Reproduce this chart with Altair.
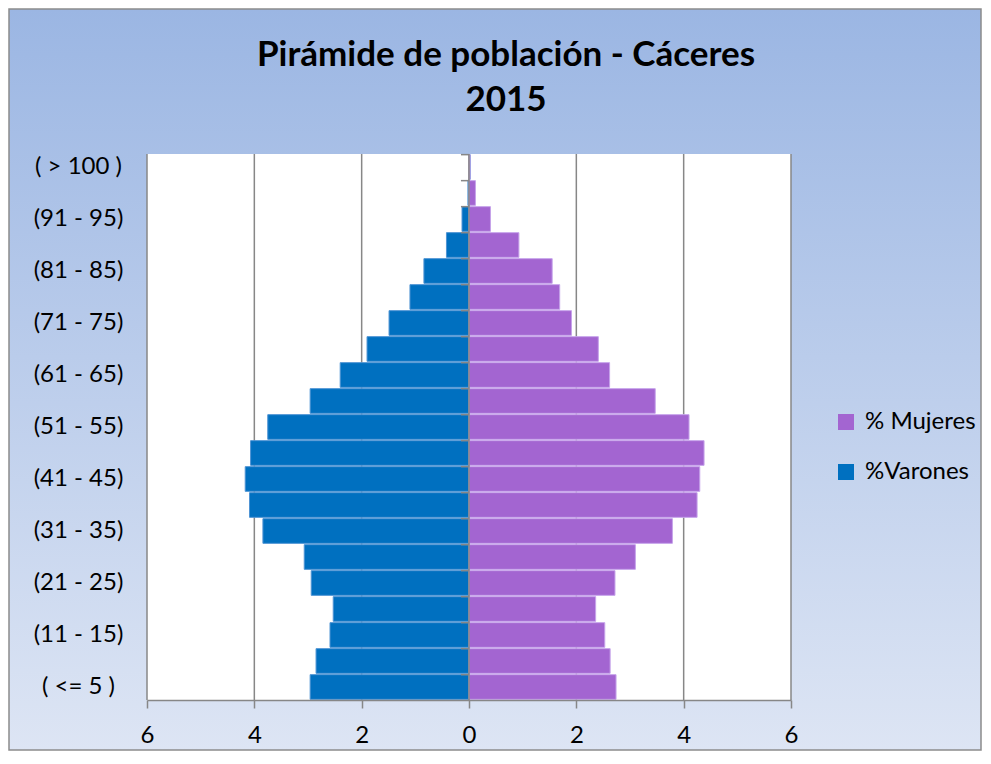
import altair as alt
import pandas as pd

# ---- data ----
categorias = ["( > 100 )", "(96 - 100)", "(91 - 95)", "(86 - 90)", "(81 - 85)",
              "(76 - 80)", "(71 - 75)", "(66 - 70)", "(61 - 65)", "(56 - 60)",
              "(51 - 55)", "(46 - 50)", "(41 - 45)", "(36 - 40)", "(31 - 35)",
              "(26 - 30)", "(21 - 25)", "(16 - 20)", "(11 - 15)", "(6 - 10)",
              "( <= 5 )"]
varones = [0.0, 0.02, 0.13, 0.42, 0.84, 1.10, 1.49, 1.90, 2.40, 2.96, 3.75,
           4.07, 4.17, 4.09, 3.84, 3.07, 2.94, 2.53, 2.59, 2.85, 2.96]
mujeres = [0.02, 0.12, 0.40, 0.93, 1.55, 1.69, 1.91, 2.41, 2.62, 3.47, 4.10,
           4.38, 4.30, 4.25, 3.79, 3.10, 2.72, 2.36, 2.53, 2.63, 2.74]
series = ["% Mujeres", "%Varones"]
ticks_x = [-6, -4, -2, 0, 2, 4, 6]
etiquetas_y = [categorias[i] for i in range(0, len(categorias), 2)]

W, H = 644, 546
FONT = "Lato"
GRIS = "#878787"

rows = []
for c, v, m in zip(categorias, varones, mujeres):
    rows.append({"edad": c, "serie": "%Varones", "valor": -v})
    rows.append({"edad": c, "serie": "% Mujeres", "valor": m})
df = pd.DataFrame(rows)
df_cat = pd.DataFrame({"edad": categorias})

xscale = alt.Scale(domain=[-6, 6], nice=False, zero=False)
yscale = alt.Scale(domain=categorias, paddingInner=0.05, paddingOuter=0.025)

xaxis = alt.Axis(values=ticks_x, labelExpr="format(abs(datum.value), 'd')", grid=False,
                 domainColor=GRIS, domainWidth=1.5, tickColor=GRIS, tickWidth=1.5,
                 tickSize=8, labelFont=FONT, labelFontSize=24, labelColor="black",
                 labelPadding=15, labelFlush=False, title=None, zindex=1)
yaxis = alt.Axis(orient="left", values=etiquetas_y, labelAlign="center",
                 labelPadding=69, ticks=False, tickSize=0, domain=False,
                 grid=False, labelFont=FONT, labelFontSize=24,
                 labelColor="black", title=None, zindex=2)

one = pd.DataFrame({"a": [0]})

fondo = alt.Chart(one).mark_rect(
    fill=alt.LinearGradient(
        gradient="linear",
        stops=[alt.GradientStop(color="#9BB6E3", offset=0),
               alt.GradientStop(color="#DDE5F4", offset=1)],
        x1=0, x2=0, y1=0, y2=1),
    stroke="#8C8C8C", strokeWidth=1.5,
).encode(x=alt.value(-138), x2=alt.value(W + 190), y=alt.value(-145), y2=alt.value(H + 50))

area = alt.Chart(one).mark_rect(fill="white").encode(
    x=alt.value(0), x2=alt.value(W), y=alt.value(0), y2=alt.value(H))

grid = alt.Chart(pd.DataFrame({"valor": ticks_x})).mark_rule(
    color=GRIS, strokeWidth=1.5
).encode(x=alt.X("valor:Q", scale=xscale, axis=xaxis), y=alt.value(0), y2=alt.value(H))

barras = alt.Chart(df).mark_bar(strokeWidth=1).encode(
    x=alt.X("valor:Q", scale=xscale, axis=xaxis),
    y=alt.Y("edad:N", scale=yscale, sort=categorias, axis=yaxis),
    color=alt.Color("serie:N",
                    scale=alt.Scale(domain=series, range=["#A365D1", "#0070C0"]),
                    legend=alt.Legend(orient="none", legendX=687, legendY=256, title=None,
                                      labelFont=FONT, labelFontSize=24, labelColor="black",
                                      symbolType="square", symbolSize=256,
                                      symbolStrokeWidth=0, rowPadding=26, labelOffset=7,
                                      padding=0)),
    stroke=alt.Stroke("serie:N",
                      scale=alt.Scale(domain=series, range=["#C6A3EA", "#4F94D4"]),
                      legend=None),
)

# vertical axis line at 0 (drawn over the bars, as in the reference)
linea_cero = alt.Chart(one).mark_rule(color=GRIS, strokeWidth=1.5).encode(
    x=alt.datum(0), y=alt.value(0), y2=alt.value(H))

# category tick marks on the zero axis (band boundaries)
marcas = alt.Chart(df_cat).mark_rule(color=GRIS, strokeWidth=1.5).encode(
    x=alt.datum(0), x2=alt.datum(-0.15),
    y=alt.Y("edad:N", scale=yscale, sort=categorias, axis=yaxis, bandPosition=0),
)

chart = alt.layer(fondo, area, grid, barras, linea_cero, marcas).properties(
    width=W, height=H, padding=0,
    title=alt.TitleParams(text=["Pirámide de población - Cáceres", "2015"], font=FONT,
                          fontSize=35, fontWeight="bold", color="black", lineHeight=45,
                          anchor="middle", dx=37, offset=-110),
).configure_view(stroke=None)

chart.save("out.html", embed_options={"renderer": "svg", "actions": False})
